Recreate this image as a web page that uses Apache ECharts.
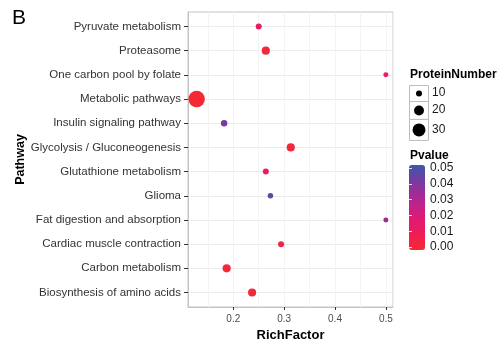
<!DOCTYPE html>
<html>
<head>
<meta charset="utf-8">
<script src="https://cdn.jsdelivr.net/npm/echarts@6/dist/echarts.min.js"></script>
<style>
  html, body { margin: 0; padding: 0; background: #fff; }
  #main { width: 502px; height: 339px; }
</style>
</head>
<body>
<div id="main"></div>
<script>
// pathways listed top to bottom
var pathways = ['Pyruvate metabolism', 'Proteasome', 'One carbon pool by folate', 'Metabolic pathways',
    'Insulin signaling pathway', 'Glycolysis / Gluconeogenesis', 'Glutathione metabolism', 'Glioma',
    'Fat digestion and absorption', 'Cardiac muscle contraction', 'Carbon metabolism', 'Biosynthesis of amino acids'];
var richFactor = [0.25, 0.264, 0.5, 0.128, 0.182, 0.313, 0.264, 0.273, 0.5, 0.294, 0.187, 0.237];
var proteinNumber = [10, 15, 8, 44, 11, 15, 10, 9, 8, 10, 15, 15];
var pvalue = [0.013, 0.003, 0.01, 0.0005, 0.04, 0.003, 0.011, 0.047, 0.034, 0.005, 0.002, 0.002];
var xTicks = [0.2, 0.3, 0.4, 0.5];
var sizeLegend = [10, 20, 30];

var FONT = 'Liberation Sans, Arial, sans-serif';

// diameter in px for a protein count (area-like scale)
function dotSize(n) {
    return Math.max(4, -3.55 + 3.02 * Math.sqrt(n));
}

var rows = pathways.map(function (p, i) { return i + 1; });
var points = pathways.map(function (p, i) {
    return [richFactor[i], i + 1, pvalue[i], proteinNumber[i]];
});

// size legend (keys drawn as graphic elements)
var graphics = [
    { type: 'text', left: 12, top: 8, style: { text: 'B', font: '21px ' + FONT, fill: '#000' } },
    { type: 'text', left: 410, top: 69, style: { text: 'ProteinNumber', font: 'bold 12px ' + FONT, fill: '#000' } },
    { type: 'text', left: 410, top: 150, style: { text: 'Pvalue', font: 'bold 12px ' + FONT, fill: '#000' } }
];
var keyTop = 85;
sizeLegend.forEach(function (v) {
    var d = dotSize(v);
    var h = Math.max(16, d + 8);
    graphics.push({ type: 'rect', shape: { x: 409.5, y: keyTop + 0.5, width: 19, height: h },
        style: { fill: '#fff', stroke: '#bdbdbd', lineWidth: 1 } });
    graphics.push({ type: 'circle', shape: { cx: 419, cy: keyTop + h / 2 + 0.5, r: d / 2 },
        style: { fill: '#000' } });
    graphics.push({ type: 'text', left: 432, top: keyTop + h / 2 - 6,
        style: { text: String(v), font: '12px ' + FONT, fill: '#1a1a1a' } });
    keyTop += h;
});

var chart = echarts.init(document.getElementById('main'));
chart.setOption({
    animation: false,
    textStyle: { fontFamily: FONT },
    graphic: graphics,
    grid: [
        { left: 188, right: 109, top: 12, bottom: 32, show: true, borderColor: '#c4c4c4', borderWidth: 1,
          outerBoundsMode: 'none', containLabel: false },
        { left: 409, top: 168, width: 16, height: 79, outerBoundsMode: 'none', containLabel: false }
    ],
    xAxis: [
        {
            type: 'value', gridIndex: 0, min: 0.111, max: 0.514,
            name: 'RichFactor', nameLocation: 'middle', nameGap: 14,
            nameTextStyle: { fontWeight: 'bold', fontSize: 13, color: '#000' },
            axisLine: { show: true, lineStyle: { color: '#c4c4c4' } },
            axisTick: { show: true, length: 3, customValues: xTicks, lineStyle: { color: '#333' } },
            axisLabel: { customValues: xTicks, fontSize: 10, color: '#4d4d4d', margin: 7 },
            splitLine: { show: true, lineStyle: { color: '#ebebeb' } }
        },
        {
            type: 'value', gridIndex: 0, min: 0.111, max: 0.514, splitNumber: 8, position: 'top',
            axisLine: { show: false }, axisTick: { show: false }, axisLabel: { show: false },
            splitLine: { show: true, lineStyle: { color: '#f3f3f3' } }
        },
        { type: 'value', gridIndex: 1, show: false, min: 0, max: 1 }
    ],
    yAxis: [
        {
            type: 'value', gridIndex: 0, min: 0.4, max: 12.6, inverse: true,
            name: 'Pathway', nameLocation: 'middle', nameGap: 159,
            nameTextStyle: { fontWeight: 'bold', fontSize: 12.5, color: '#000' },
            axisLine: { show: true, lineStyle: { color: '#c4c4c4' } },
            axisTick: { show: true, length: 4, customValues: rows, lineStyle: { color: '#333' } },
            axisLabel: {
                customValues: rows, fontSize: 11.5, color: '#333', margin: 7,
                formatter: function (v) { return pathways[Math.round(v) - 1] || ''; }
            },
            splitLine: { show: true, lineStyle: { color: '#ebebeb' } }
        },
        {
            type: 'value', gridIndex: 1, position: 'right', min: 0, max: 0.05, interval: 0.01, z: 10,
            axisLine: { show: false },
            axisTick: { show: true, inside: true, length: 3, lineStyle: { color: '#fff', opacity: 0.8 } },
            axisLabel: { fontSize: 12, color: '#1a1a1a', margin: 5,
                formatter: function (v) { return v.toFixed(2); } },
            splitLine: { show: false }
        },
        {
            type: 'value', gridIndex: 1, position: 'left', min: 0, max: 0.05, interval: 0.01, z: 10,
            axisLine: { show: false },
            axisTick: { show: true, inside: true, length: 3, lineStyle: { color: '#fff', opacity: 0.8 } },
            axisLabel: { show: false },
            splitLine: { show: false }
        }
    ],
    visualMap: {
        type: 'continuous', seriesIndex: 0, dimension: 2, min: 0, max: 0.05,
        calculable: false, left: 409, top: 165, itemWidth: 16, itemHeight: 85, padding: 0,
        text: null, showLabel: false, hoverLink: false,
        inRange: { color: ['#f42a32', '#ec1d58', '#dc1a78', '#b12594', '#7a3a9e', '#3f58a8'] }
    },
    series: [
        {
            type: 'scatter', xAxisIndex: 0, yAxisIndex: 0,
            data: points,
            symbolSize: function (val) { return dotSize(val[3]); },
            itemStyle: { opacity: 1 },
            z: 5
        }
    ]
});
</script>
</body>
</html>
